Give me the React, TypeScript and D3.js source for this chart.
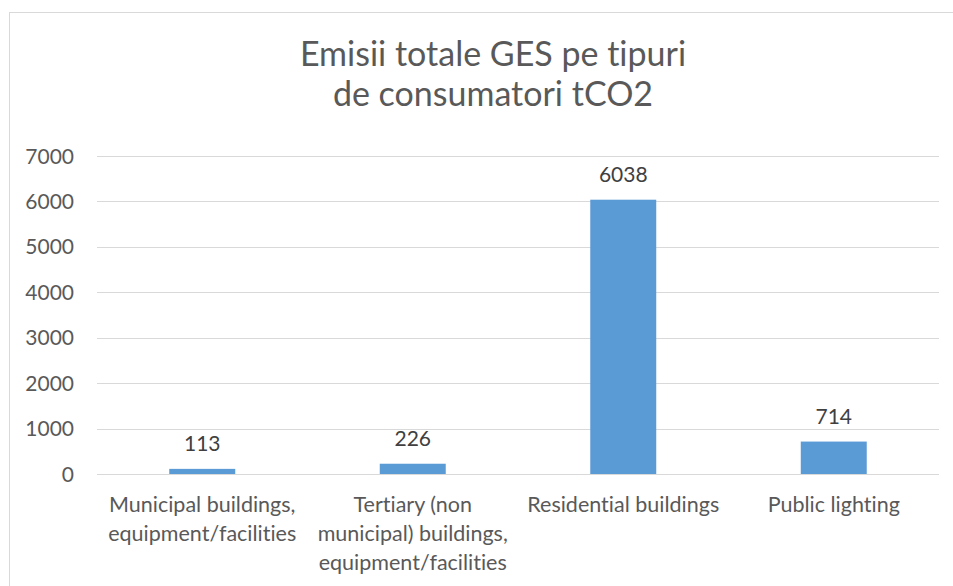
import React from "react";
import * as d3 from "d3";

const titleLines = ["Emisii totale GES pe tipuri", "de consumatori tCO2"];
const categories = [
  "Municipal buildings, equipment/facilities",
  "Tertiary (non municipal) buildings, equipment/facilities",
  "Residential buildings",
  "Public lighting",
];
const categoryLines = [
  ["Municipal buildings,", "equipment/facilities"],
  ["Tertiary (non", "municipal) buildings,", "equipment/facilities"],
  ["Residential buildings"],
  ["Public lighting"],
];
const values = [113, 226, 6038, 714];
const yTicks = [0, 1000, 2000, 3000, 4000, 5000, 6000, 7000];

const W = 953;
const H = 586;
const FONT = "Lato, 'Open Sans', sans-serif";

export default function App() {
  const x = d3.scaleBand<string>().domain(categories).range([97, 939]).paddingInner(0).paddingOuter(0);
  const y = d3.scaleLinear().domain([0, 7000]).range([474, 156]);
  const bw = x.bandwidth() / (1 + 2.19);

  return (
    <svg
      width={W}
      height={H}
      style={{ position: "absolute", left: 0, top: 0, background: "#fff", fontVariantLigatures: "none" }}
      fontFamily={FONT}
    >
      <rect x={9.5} y={12.5} width={1000} height={1000} fill="#fff" stroke="#d9d9d9" strokeWidth={1} />
      {titleLines.map((t, i) => (
        <text key={t} x={493} y={66 + i * 39.5} textAnchor="middle" fontSize={34} fill="#595959">
          {t}
        </text>
      ))}
      {yTicks.map((t) => (
        <g key={t}>
          <line x1={97} x2={939} y1={Math.round(y(t)) + 0.5} y2={Math.round(y(t)) + 0.5} stroke="#d9d9d9" strokeWidth={1} />
          <text x={74} y={y(t) + 7.5} textAnchor="end" fontSize={21} fill="#595959">
            {t}
          </text>
        </g>
      ))}
      {categories.map((c, i) => {
        const cx = (x(c) as number) + x.bandwidth() / 2;
        return (
          <g key={c}>
            <rect x={cx - bw / 2} y={y(values[i])} width={bw} height={y(0) - y(values[i])} fill="#5b9bd5" />
            <text x={cx} y={y(values[i]) - 18} textAnchor="middle" fontSize={21} fill="#404040">
              {values[i]}
            </text>
            {categoryLines[i].map((l, j) => (
              <text key={j} x={cx} y={512 + j * 29} textAnchor="middle" fontSize={21.5} fill="#595959">
                {l}
              </text>
            ))}
          </g>
        );
      })}
    </svg>
  );
}
